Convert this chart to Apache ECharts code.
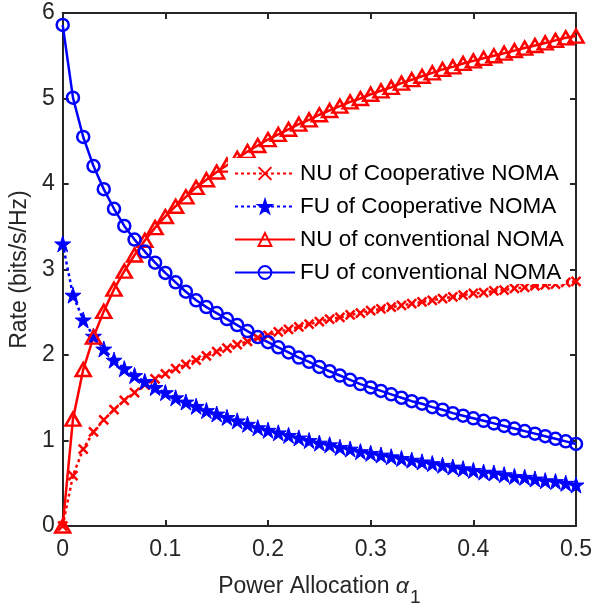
<!DOCTYPE html>
<html>
<head>
<meta charset="utf-8">
<script src="https://cdn.jsdelivr.net/npm/echarts@6/dist/echarts.min.js"></script>
<style>
html, body { margin: 0; padding: 0; background: #fff; }
#main { width: 595px; height: 612px; }
</style>
</head>
<body>
<div id="main"></div>
<script>
// power allocation alpha_1
var alpha = [0, 0.01, 0.02, 0.03, 0.04, 0.05, 0.06, 0.07, 0.08, 0.09,
    0.10, 0.11, 0.12, 0.13, 0.14, 0.15, 0.16, 0.17, 0.18, 0.19,
    0.20, 0.21, 0.22, 0.23, 0.24, 0.25, 0.26, 0.27, 0.28, 0.29,
    0.30, 0.31, 0.32, 0.33, 0.34, 0.35, 0.36, 0.37, 0.38, 0.39,
    0.40, 0.41, 0.42, 0.43, 0.44, 0.45, 0.46, 0.47, 0.48, 0.49, 0.50];

var nuCoop = [0, 0.59, 0.90, 1.10, 1.24, 1.36, 1.47, 1.56, 1.65, 1.72,
    1.78, 1.84, 1.89, 1.94, 1.99, 2.04, 2.08, 2.12, 2.16, 2.20,
    2.23, 2.27, 2.30, 2.33, 2.36, 2.39, 2.42, 2.44, 2.47, 2.49,
    2.52, 2.54, 2.56, 2.58, 2.60, 2.62, 2.64, 2.66, 2.68, 2.70,
    2.72, 2.73, 2.75, 2.76, 2.78, 2.79, 2.81, 2.82, 2.83, 2.85, 2.86];

var fuCoop = [3.30, 2.70, 2.41, 2.22, 2.07, 1.94, 1.84, 1.76, 1.69, 1.62,
    1.56, 1.50, 1.45, 1.40, 1.35, 1.31, 1.27, 1.23, 1.19, 1.15,
    1.12, 1.09, 1.06, 1.03, 1.00, 0.97, 0.95, 0.92, 0.90, 0.87,
    0.85, 0.83, 0.81, 0.79, 0.77, 0.75, 0.73, 0.71, 0.69, 0.67,
    0.65, 0.63, 0.62, 0.60, 0.58, 0.57, 0.55, 0.53, 0.52, 0.50, 0.48];

var nuConv = [0, 1.25, 1.83, 2.21, 2.51, 2.77, 2.98, 3.17, 3.34, 3.49,
    3.62, 3.74, 3.85, 3.96, 4.05, 4.14, 4.22, 4.30, 4.38, 4.45,
    4.52, 4.58, 4.64, 4.70, 4.75, 4.81, 4.86, 4.91, 4.96, 5.00,
    5.05, 5.09, 5.13, 5.18, 5.22, 5.26, 5.30, 5.34, 5.37, 5.41,
    5.44, 5.47, 5.50, 5.53, 5.56, 5.59, 5.62, 5.65, 5.68, 5.71, 5.73];

var fuConv = [5.86, 5.01, 4.55, 4.21, 3.94, 3.71, 3.51, 3.35, 3.21, 3.08,
    2.96, 2.85, 2.74, 2.64, 2.56, 2.49, 2.42, 2.35, 2.28, 2.21,
    2.15, 2.09, 2.03, 1.97, 1.92, 1.86, 1.81, 1.76, 1.71, 1.66,
    1.62, 1.58, 1.54, 1.50, 1.46, 1.43, 1.39, 1.36, 1.32, 1.29,
    1.26, 1.23, 1.20, 1.17, 1.14, 1.11, 1.08, 1.05, 1.02, 0.99, 0.96];

var names = ['NU of Cooperative NOMA', 'FU of Cooperative NOMA',
    'NU of conventional NOMA', 'FU of conventional NOMA'];

var RED = '#ff0000', BLUE = '#0000ff', AXIS = '#262626';
var FONT = 'Liberation Sans';
var crossPath = 'path://M0,0L10,10M10,0L0,10';
var starPath = 'path://M50,2L61.8,38.2L100,38.2L69.1,60.6L80.9,97L50,74.6L19.1,97L30.9,60.6L0,38.2L38.2,38.2Z';

function pairs(ys) {
    return alpha.map(function (a, i) { return [a, ys[i]]; });
}

function boxAxis(pos, min, max, interval, labels, margin) {
    return {
        type: 'value', position: pos, min: min, max: max, interval: interval,
        axisLine: {show: true, onZero: false, lineStyle: {color: AXIS, width: 2}},
        axisTick: {show: true, inside: true, length: 6, lineStyle: {color: AXIS, width: 2}},
        axisLabel: {show: labels, fontSize: 23, color: AXIS, fontFamily: FONT, margin: margin},
        splitLine: {show: false}
    };
}

var chart = echarts.init(document.getElementById('main'));

var xBottom = boxAxis('bottom', 0, 0.5, 0.1, true, 12);
xBottom.name = '{n|Power Allocation }{a|α}{s|1}';
xBottom.nameLocation = 'middle';
xBottom.nameGap = 49;
xBottom.nameTextStyle = {
    rich: {
        n: {fontSize: 23, color: AXIS, fontFamily: FONT, verticalAlign: 'top'},
        a: {fontSize: 23, color: AXIS, fontFamily: FONT, fontStyle: 'italic', verticalAlign: 'top'},
        s: {fontSize: 19, color: AXIS, fontFamily: FONT, verticalAlign: 'top', padding: [13, 0, 0, 1]}
    }
};

var yLeft = boxAxis('left', 0, 6, 1, true, 8);
yLeft.name = 'Rate (bits/s/Hz)';
yLeft.nameLocation = 'middle';
yLeft.nameGap = 31;
yLeft.nameTextStyle = {fontSize: 23, color: AXIS, fontFamily: FONT};

var option = {
    animation: false,
    backgroundColor: '#fff',
    grid: {left: 62, right: 16, top: 13, bottom: 84},
    legend: {
        data: names,
        orient: 'vertical',
        left: 228,
        top: 158,
        padding: [4, 2, 0, 6],
        itemGap: 10,
        itemWidth: 60,
        itemHeight: 16,
        backgroundColor: '#fff',
        textStyle: {fontSize: 22.5, lineHeight: 22, color: '#000', fontFamily: FONT}
    },
    xAxis: [xBottom, boxAxis('top', 0, 0.5, 0.1, false, 12)],
    yAxis: [yLeft, boxAxis('right', 0, 6, 1, false, 8)],
    series: [
        {
            name: names[0], type: 'line', data: pairs(nuCoop),
            symbol: crossPath, symbolSize: 9,
            lineStyle: {color: RED, width: 2.5, type: [3, 3]},
            itemStyle: {color: RED, borderColor: RED, borderWidth: 2.5}
        },
        {
            name: names[1], type: 'line', data: pairs(fuCoop),
            symbol: starPath, symbolSize: 16,
            lineStyle: {color: BLUE, width: 2.5, type: [3, 3]},
            itemStyle: {color: BLUE, borderColor: BLUE, borderWidth: 1}
        },
        {
            name: names[2], type: 'line', data: pairs(nuConv),
            symbol: 'triangle', symbolSize: [15, 13],
            lineStyle: {color: RED, width: 2.5},
            itemStyle: {color: 'rgba(255,255,255,0)', borderColor: RED, borderWidth: 2.5}
        },
        {
            name: names[3], type: 'line', data: pairs(fuConv),
            symbol: 'circle', symbolSize: 12,
            lineStyle: {color: BLUE, width: 2.5},
            itemStyle: {color: 'rgba(255,255,255,0)', borderColor: BLUE, borderWidth: 2.5}
        }
    ]
};

chart.setOption(option);
</script>
</body>
</html>
